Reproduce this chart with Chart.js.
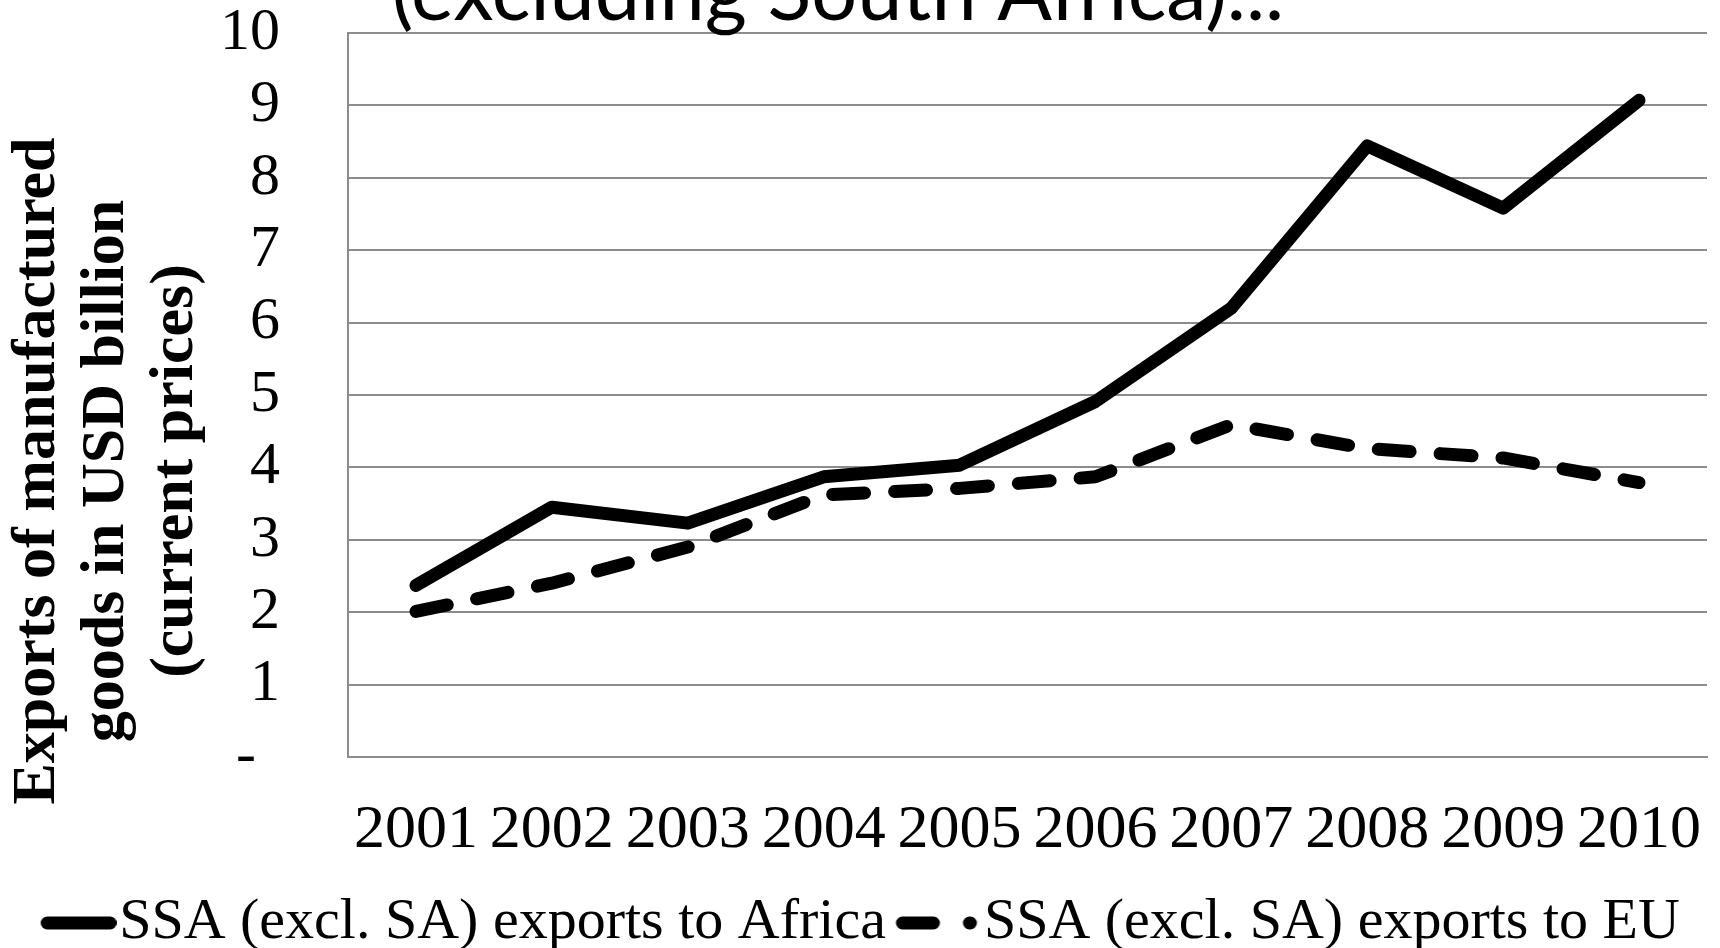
<!DOCTYPE html>
<html>
<head>
<meta charset="utf-8">
<script src="https://cdn.jsdelivr.net/npm/chart.js@4.4.1/dist/chart.umd.min.js"></script>
<style>
  html, body { margin: 0; padding: 0; background: #fff; overflow: hidden; }
  #wrap { position: relative; width: 1720px; height: 962px; }
</style>
</head>
<body>
<div id="wrap"><canvas id="chart"></canvas></div>
<script>
const years = ['2001', '2002', '2003', '2004', '2005', '2006', '2007', '2008', '2009', '2010'];
const exportsToAfrica = [2.37, 3.45, 3.23, 3.87, 4.03, 4.91, 6.2, 8.44, 7.58, 9.07];
const exportsToEU = [2.01, 2.40, 2.90, 3.62, 3.71, 3.87, 4.59, 4.26, 4.13, 3.79];
const yTicks = [0, 1, 2, 3, 4, 5, 6, 7, 8, 9, 10];
const seriesNames = ['SSA (excl. SA) exports to Africa', 'SSA (excl. SA) exports to EU'];
const chartTitle = '(excluding South Africa)...';
const yTitleLines = ['Exports of manufactured', 'goods in USD billion', '(current prices)'];

const gridGray = '#8c8c8c';
const serif = '"Liberation Serif", "Times New Roman", serif';
const lineWidth = 13;

// small legend swatch: a thick round-capped stroke, optionally dashed
function makeSwatch(from, to, dash) {
  const c = document.createElement('canvas');
  c.width = 116;
  c.height = 20;
  const g = c.getContext('2d');
  g.strokeStyle = '#000';
  g.lineWidth = lineWidth;
  g.lineCap = 'round';
  g.setLineDash(dash);
  g.beginPath();
  g.moveTo(from, 10);
  g.lineTo(to, 10);
  g.stroke();
  return c;
}
const swatches = [makeSwatch(46.5, 109.5, []), makeSwatch(37, 105, [31, 36])];

// title (partly cut off by the top edge) and the three-line vertical axis title
const textPlugin = {
  id: 'chartTexts',
  afterDraw(chart) {
    const ctx = chart.ctx;
    ctx.save();
    ctx.fillStyle = '#000';
    ctx.textAlign = 'center';
    ctx.textBaseline = 'alphabetic';
    ctx.font = '81px Lato, "Open Sans", sans-serif';
    ctx.fillText(chartTitle, 838, 20);

    ctx.font = 'bold 62px ' + serif;
    ctx.textBaseline = 'middle';
    const columns = [38, 107, 176];
    yTitleLines.forEach((line, i) => {
      ctx.save();
      ctx.translate(columns[i], 471);
      ctx.rotate(-Math.PI / 2);
      ctx.fillText(line, 0, 0);
      ctx.restore();
    });
    ctx.restore();
  }
};

const ctx = document.getElementById('chart').getContext('2d');
new Chart(ctx, {
  type: 'line',
  data: {
    labels: years,
    datasets: [
      {
        label: seriesNames[0],
        data: exportsToAfrica,
        borderColor: '#000',
        backgroundColor: '#000',
        borderWidth: lineWidth,
        borderCapStyle: 'round',
        borderJoinStyle: 'round',
        pointRadius: 0,
        tension: 0
      },
      {
        label: seriesNames[1],
        data: exportsToEU,
        borderColor: '#000',
        backgroundColor: '#000',
        borderWidth: lineWidth,
        borderDash: [32, 30],
        borderCapStyle: 'round',
        borderJoinStyle: 'round',
        pointRadius: 0,
        tension: 0
      }
    ]
  },
  options: {
    responsive: true,
    maintainAspectRatio: false,
    animation: false,
    devicePixelRatio: 1,
    layout: { padding: { left: 0, right: 13, top: 0, bottom: 0 } },
    plugins: {
      title: { display: false },
      legend: {
        position: 'bottom',
        labels: {
          color: '#000',
          font: { family: serif, size: 58 },
          usePointStyle: true,
          pointStyleWidth: 63,
          padding: 6,
          generateLabels: chart => chart.data.datasets.map((ds, i) => ({
            text: ds.label,
            fontColor: '#000',
            fillStyle: ds.borderColor,
            strokeStyle: ds.borderColor,
            lineWidth: 0,
            pointStyle: swatches[i],
            hidden: false,
            datasetIndex: i
          }))
        }
      },
      tooltip: { enabled: false }
    },
    scales: {
      x: {
        offset: true,
        grid: { display: false, drawTicks: true, tickLength: 17, tickColor: 'rgba(0,0,0,0)' },
        border: { display: true, color: gridGray, width: 2 },
        ticks: {
          color: '#000',
          font: { family: serif, size: 62, lineHeight: 1.839 },
          padding: 0,
          maxRotation: 0,
          autoSkip: false
        }
      },
      y: {
        min: 0,
        max: 10,
        afterFit(scale) { scale.width = 348; },
        afterBuildTicks(scale) { scale.ticks = yTicks.map(v => ({ value: v })); },
        grid: { color: gridGray, lineWidth: 2, drawTicks: true, tickLength: 68, tickColor: 'rgba(0,0,0,0)' },
        border: { display: true, color: gridGray, width: 2 },
        ticks: {
          color: '#000',
          font: { family: serif, size: 60, lineHeight: 1.1 },
          padding: 0,
          autoSkip: false,
          // zero shows as an accounting-style dash
          callback: v => (v === 0 ? '-\u2009\u2009' : String(v))
        }
      }
    }
  },
  plugins: [textPlugin]
});
</script>
</body>
</html>
